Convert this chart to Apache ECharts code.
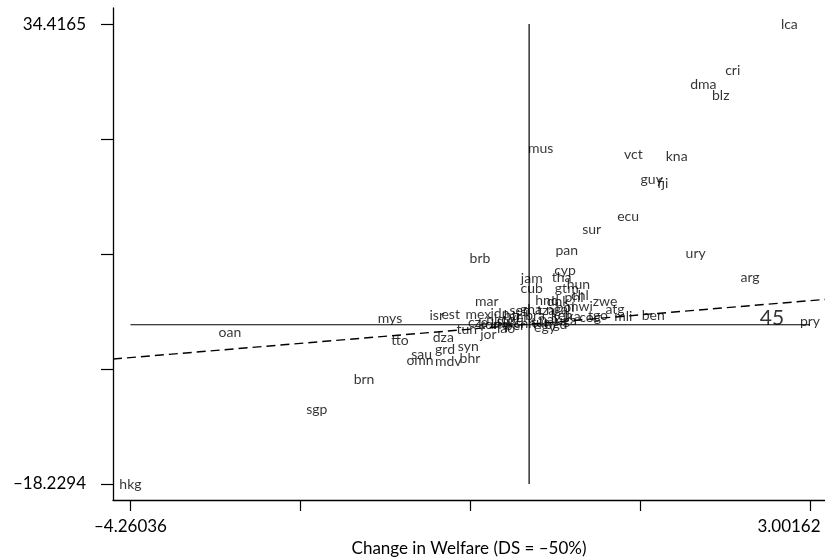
<!DOCTYPE html>
<html>
<head>
<meta charset="utf-8">
<script src="https://cdn.jsdelivr.net/npm/echarts@6/dist/echarts.min.js"></script>
<style>
  html, body { margin: 0; padding: 0; background: #fff; }
  #chart { width: 825px; height: 560px; }
</style>
</head>
<body>
<div id="chart"></div>
<script>
// Country codes and their coordinates (x: change in welfare, y: second outcome)
const codes = ['lca','cri','dma','blz','mus','vct','kna','guy','fji','ecu','sur','pan','ury','arg','brb','jam','cyp','tha','hun','cub','gtm','chl','phl','hnd','dnk','mwi','zwe','atg','ben','mli','tgo','pry','mar','mys','isr','est','mex','tun','jor','tto','dza','grd','syn','sau','omn','mdv','bhr','oan','sgp','brn','hkg','idn','cze','kor','lao','col','ven','per','bra','chn','tur','egy','pak','bgd','ken','uga','tza','nga','gha','sen','slv','nic','bol','hti','ind','lka','cog'];
const xVals = [2.781,2.176,1.862,2.048,0.124,1.114,1.577,1.310,1.428,1.058,0.669,0.402,1.780,2.361,-0.525,0.028,0.384,0.348,0.526,0.028,0.402,0.544,0.480,0.191,0.309,0.544,0.811,0.918,1.327,1.007,0.736,3.00162,-0.453,-1.487,-0.987,-0.838,-0.543,-0.667,-0.436,-1.380,-0.917,-0.899,-0.650,-1.148,-1.166,-0.864,-0.632,-3.197,-2.270,-1.764,-4.26036,-0.311,-0.546,-0.439,-0.247,-0.204,-0.097,-0.151,0.063,-0.044,0.116,0.170,0.223,0.287,0.351,0.394,0.181,0.298,0.020,-0.097,-0.258,-0.364,0.384,-0.183,-0.311,0.458,0.651];
const yVals = [34.4165,29.06,27.46,26.20,20.20,19.51,19.22,16.65,16.16,12.38,10.93,8.53,8.18,5.40,7.61,5.29,6.24,5.40,4.64,4.14,4.14,3.31,3.11,2.72,2.66,2.04,2.65,1.77,1.09,0.94,1.05,0.37,2.66,0.74,1.02,1.13,1.13,-0.52,-1.16,-1.77,-1.47,-2.80,-2.50,-3.45,-4.06,-4.21,-3.83,-0.89,-9.67,-6.27,-18.2294,1.28,0.25,0.02,-0.43,0.60,0.82,-0.09,1.05,0.14,0.25,-0.32,0.60,0.02,1.05,0.48,1.63,1.74,1.74,1.63,0.37,0.60,1.97,1.05,0.02,0.94,0.82];

// Axis ticks (five evenly spaced, labelled only at the ends)
const xTicks = [-4.26036, -2.444865, -0.62937, 1.186125, 3.00162];
const yTicks = [-18.2294, -5.067925, 8.09355, 21.255025, 34.4165];
const xTickLabels = ['–4.26036', '3.00162'];
const yTickLabels = ['–18.2294', '34.4165'];

// Fitted line
const fitIntercept = 0.06;
const fitSlope = 0.897;
const fitNote = '45';
const fitNoteAt = [2.596, 0.8];

const xAxisTitle = 'Change in Welfare (DS = –50%)';

const X_MIN = -4.447, X_MAX = 3.162;
const Y_MIN = -20.06, Y_MAX = 36.25;
const FONT = 'Lato, "Open Sans", sans-serif';

const dataXMin = Math.min(...xVals), dataXMax = Math.max(...xVals);
const dataYMin = Math.min(...yVals), dataYMax = Math.max(...yVals);

const xLabelVals = [xTicks[0], xTicks[xTicks.length - 1]];
const yLabelVals = [yTicks[0], yTicks[yTicks.length - 1]];

const chart = echarts.init(document.getElementById('chart'), null, { renderer: 'canvas' });

const lineStyleSolid = { color: '#000', width: 1.2, type: 'solid' };

chart.setOption({
  animation: false,
  backgroundColor: '#fff',
  textStyle: { fontFamily: FONT },
  grid: { left: 113, right: 0, top: 8, bottom: 60, containLabel: false, outerBoundsMode: 'none' },
  xAxis: {
    type: 'value',
    min: X_MIN, max: X_MAX,
    name: xAxisTitle,
    nameLocation: 'middle',
    nameGap: 40,
    nameTextStyle: { fontFamily: FONT, fontSize: 17, color: '#000' },
    splitLine: { show: false },
    axisLine: { show: true, onZero: false, lineStyle: { color: '#000', width: 1.3 } },
    axisTick: { show: true, length: 11, customValues: xTicks, lineStyle: { color: '#000', width: 1.2 } },
    axisLabel: {
      show: true,
      customValues: xLabelVals,
      margin: 18,
      fontFamily: FONT, fontSize: 17, color: '#000',
      formatter: function (v) {
        const i = xLabelVals.findIndex(t => Math.abs(t - v) < 1e-6);
        const s = i >= 0 ? xTickLabels[i] : '';
        return i === xLabelVals.length - 1 ? '{r|' + s + '}' : s;
      },
      rich: { r: { fontFamily: FONT, fontSize: 17, color: '#000', padding: [0, 42, 0, 0] } }
    }
  },
  yAxis: {
    type: 'value',
    min: Y_MIN, max: Y_MAX,
    splitLine: { show: false },
    axisLine: { show: true, onZero: false, lineStyle: { color: '#000', width: 1.3 } },
    axisTick: { show: true, length: 12, customValues: yTicks, lineStyle: { color: '#000', width: 1.2 } },
    axisLabel: {
      show: true,
      customValues: yLabelVals,
      margin: 27,
      fontFamily: FONT, fontSize: 17, color: '#000',
      formatter: function (v) {
        const i = yLabelVals.findIndex(t => Math.abs(t - v) < 1e-6);
        return i >= 0 ? yTickLabels[i] : '';
      }
    }
  },
  series: [
    {
      // horizontal reference at zero across the data range
      type: 'line', symbol: 'none', silent: true,
      data: [[dataXMin, 0], [dataXMax, 0]],
      lineStyle: lineStyleSolid, z: 1
    },
    {
      // vertical reference at zero across the data range
      type: 'line', symbol: 'none', silent: true,
      data: [[0, dataYMin], [0, dataYMax]],
      lineStyle: lineStyleSolid, z: 1
    },
    {
      // fitted line over the full axis span
      type: 'line', symbol: 'none', silent: true,
      data: [[X_MIN, fitIntercept + fitSlope * X_MIN], [X_MAX, fitIntercept + fitSlope * X_MAX]],
      lineStyle: { color: '#000', width: 1.4, type: [9, 5] }, z: 1
    },
    {
      type: 'scatter', silent: true,
      symbolSize: 0,
      data: [{ name: fitNote, value: fitNoteAt }],
      label: { show: true, position: 'inside', formatter: '{b}', fontFamily: FONT, fontSize: 21, color: '#000' },
      z: 3
    },
    {
      // country codes drawn as the markers themselves
      type: 'scatter', silent: true,
      symbolSize: 0,
      data: codes.map((c, i) => ({ name: c, value: [xVals[i], yVals[i]] })),
      label: { show: true, position: 'inside', formatter: '{b}', fontFamily: FONT, fontSize: 14, color: '#000' },
      labelLayout: { hideOverlap: false },
      z: 4
    }
  ]
});
</script>
</body>
</html>
